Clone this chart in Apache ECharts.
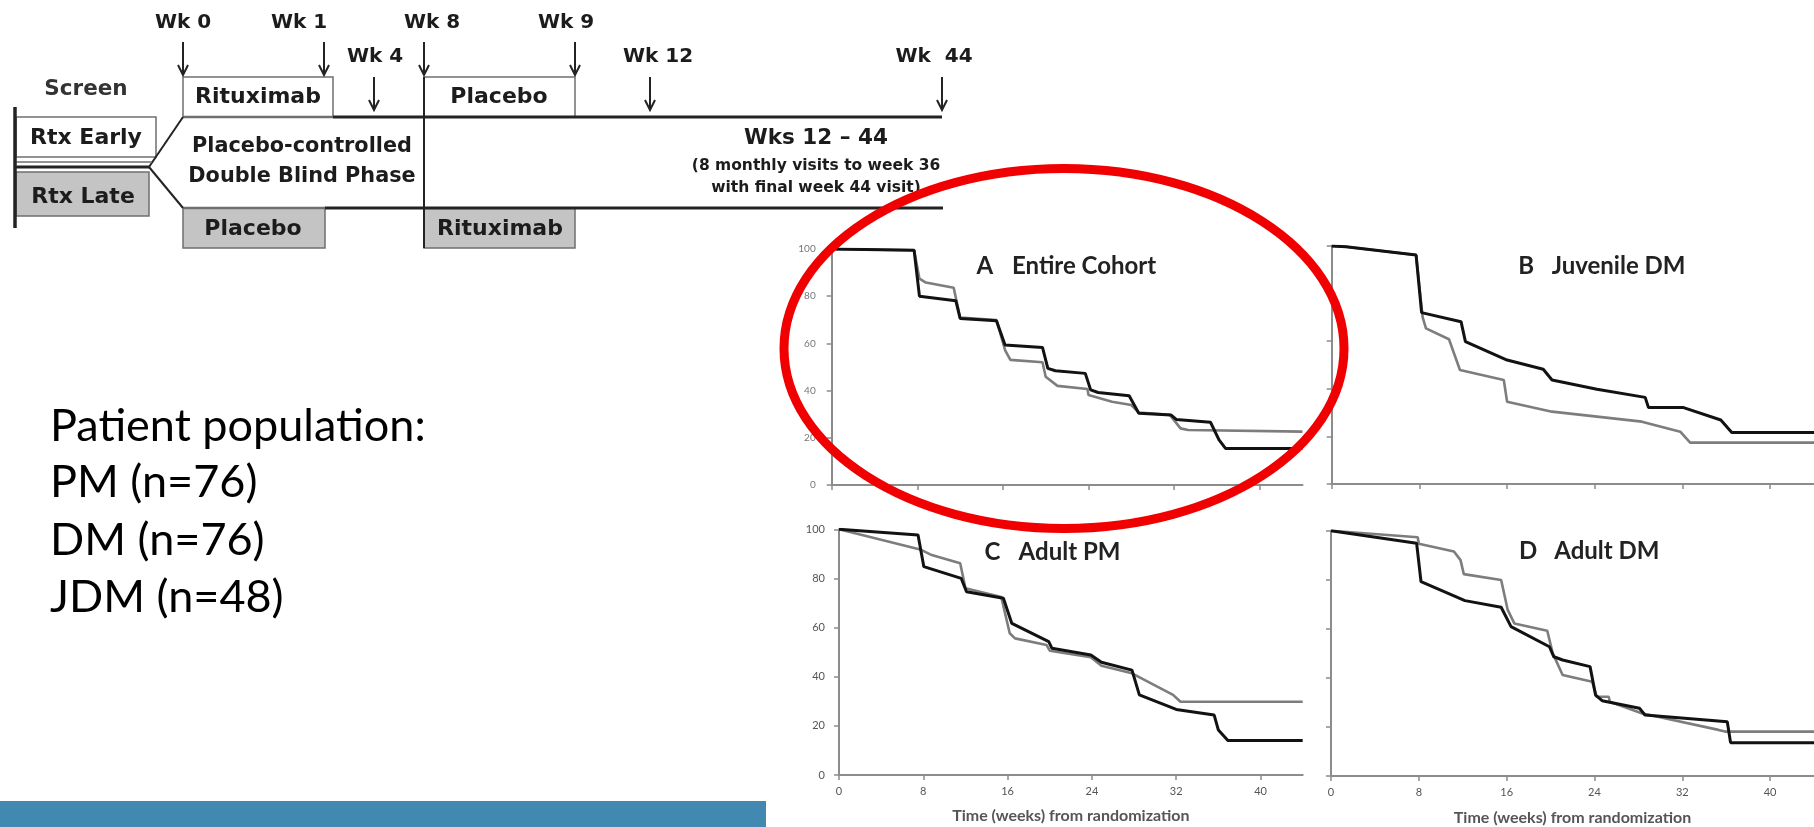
<!DOCTYPE html>
<html><head><meta charset="utf-8">
<script src="https://cdn.jsdelivr.net/npm/echarts@6/dist/echarts.min.js"></script>
<style>html,body{margin:0;padding:0;background:#fff}#c{width:1814px;height:827px}</style>
</head><body><div id="c"></div>
<script>
// ---------- data ----------
const xTicks = [0, 8, 16, 24, 32, 40];
const yTicks = [0, 20, 40, 60, 80, 100];
const panelLetters = ['A', 'B', 'C', 'D'];
const panelNames = ['Entire Cohort', 'Juvenile DM', 'Adult PM', 'Adult DM'];
const xAxisTitle = 'Time (weeks) from randomization';
const populationLines = ['Patient population:', 'PM (n=76)', 'DM (n=76)', 'JDM (n=48)'];

// [week, % remaining] — black curve and grey curve per panel
const entireBlack = [[0,100],[7.7,99.5],[8.2,80],[11.6,78.1],[12.0,70.6],[15.4,69.6],[16.2,59.3],[19.7,58.3],[20.2,49.4],[20.9,48.4],[23.7,47.3],[24.2,40.3],[24.9,39.2],[27.8,37.8],[28.7,30.4],[31.7,29.7],[32.2,27.8],[35.4,26.6],[36.2,19.1],[36.8,15.5],[44,15.5]];
const entireGrey  = [[0,100],[7.7,99.5],[8.2,87.4],[8.8,85.8],[11.4,83.6],[12.0,71],[15.4,69.9],[16.2,57.2],[16.7,53],[19.7,52],[20.0,45.9],[21.1,42],[23.9,40.7],[24.0,38.1],[26.2,35.3],[28.0,33.9],[28.7,30.7],[31.6,29.7],[32.6,24],[33.3,23.3],[44,22.6]];
const juvenileBlack = [[0,100],[1.3,99.7],[7.7,96.2],[8.2,72],[11.8,68.2],[12.2,59.8],[16.0,52.1],[19.3,48.2],[20.1,43.7],[24.2,39.8],[28.6,36.4],[28.9,32.1],[32.1,32.1],[35.5,26.9],[36.5,21.6],[44,21.6]];
const juvenileGrey  = [[0,100],[1.3,99.7],[7.7,96.2],[8.3,70],[8.6,65.4],[10.7,60.8],[11.7,47.9],[15.7,43.7],[16.0,34.6],[20.1,30.4],[28.3,26.2],[31.8,22],[32.7,17.4],[44,17.4]];
const adultPmBlack = [[0,100],[7.5,97.7],[8.05,84.8],[11.6,80],[12.1,74.6],[15.6,71.9],[16.4,61.7],[19.9,54.3],[20.2,51.6],[23.9,48.8],[24.9,45.9],[27.8,42.7],[28.5,32.6],[32.0,26.7],[35.6,24.4],[36.0,18.3],[36.9,14],[44,14]];
const adultPmGrey  = [[0,100],[7.7,91.8],[8.8,89.5],[11.5,86.2],[12.0,76],[15.4,72.4],[16.2,57.7],[16.7,55.6],[19.7,52.9],[20.0,50.6],[23.9,47.9],[24.9,44.5],[27.8,41.4],[31.7,32.6],[32.4,29.8],[44,29.8]];
const adultDmBlack = [[0,100],[7.8,94.9],[8.2,79.2],[12.2,71.5],[15.5,68.8],[16.4,60.9],[19.9,52.7],[20.3,48.6],[21.1,47.3],[23.6,44.6],[24.1,33],[24.7,30.7],[28.1,27.6],[28.6,24.9],[36.1,22.1],[36.4,13.6],[44,13.6]];
const adultDmGrey  = [[0,100],[7.9,97.3],[8.0,94.7],[11.2,91.5],[11.8,88],[12.1,82.3],[15.5,79.9],[16.1,67.7],[16.7,62.2],[19.7,59.2],[20.2,50],[21.1,41.2],[23.8,38.4],[24.2,32.3],[25.3,32.3],[25.4,30.3],[28.3,25.6],[35.3,18.8],[35.9,18.1],[44,18.1]];

const blackCurves = [entireBlack, juvenileBlack, adultPmBlack, adultDmBlack];
const greyCurves = [entireGrey, juvenileGrey, adultPmGrey, adultDmGrey];

// ---------- layout ----------
const grids = [
  {left: 831.7, top: 249,   width: 470.8, height: 236},
  {left: 1331.7, top: 246,  width: 500.5, height: 238},
  {left: 839,   top: 529.3, width: 463.7, height: 245.7},
  {left: 1331,  top: 530.7, width: 488.9, height: 245.3}
];
const titlePos = [
  {lx: 976.4, nx: 1012, y: 266},
  {lx: 1518.3, nx: 1551.7, y: 266},
  {lx: 984.6, nx: 1018.6, y: 552},
  {lx: 1519, nx: 1554.3, y: 551}
];
const axisGrey = '#8c8c8c';

const xAxes = grids.map((g, i) => ({
  type: 'value', gridIndex: i, min: 0, max: 44, interval: 8,
  axisLine: {show: true, onZero: false, lineStyle: {color: axisGrey, width: 2}},
  axisTick: {show: true, customValues: xTicks, length: 5, lineStyle: {color: axisGrey, width: 1.5}},
  axisLabel: {show: i >= 2, customValues: xTicks, margin: 11,
    color: '#555', fontSize: 11, fontFamily: 'Lato'},
  splitLine: {show: false},
  name: i >= 2 ? xAxisTitle : '', nameLocation: 'middle', nameGap: i === 2 ? 33 : 34,
  nameTextStyle: {color: '#555', fontSize: 16, fontWeight: 'bold', fontFamily: 'Lato'}
}));
const yAxes = grids.map((g, i) => ({
  type: 'value', gridIndex: i, min: 0, max: 100, interval: 20,
  axisLine: {show: true, lineStyle: {color: axisGrey, width: 2}},
  axisTick: {show: true, customValues: yTicks, length: 5, lineStyle: {color: axisGrey, width: 1.5}},
  axisLabel: {show: i === 0 || i === 2, customValues: yTicks, margin: i === 0 ? 16 : 14,
    color: i === 0 ? '#777' : '#555', fontSize: i === 0 ? 10 : 11, fontFamily: 'Lato'},
  splitLine: {show: false}
}));
const series = [];
grids.forEach((g, i) => {
  series.push({type: 'line', xAxisIndex: i, yAxisIndex: i, data: greyCurves[i], symbol: 'none',
    lineStyle: {color: '#7d7d7d', width: 2.6}, z: 2});
  series.push({type: 'line', xAxisIndex: i, yAxisIndex: i, data: blackCurves[i], symbol: 'none',
    lineStyle: {color: '#121212', width: 3}, z: 3});
});

// ---------- schematic (decoration) ----------
const G = [];
const dark = '#232323', mid = '#6f6f6f', boxGrey = '#c4c4c4';
const dFont = 'bold 20px "DejaVu Sans"';
const bFont = 'bold 22px "DejaVu Sans"';
function txt(t, x, y, font, fill, align) {
  G.push({type: 'text', x: x, y: y, z: 50, style: {text: t, font: font || dFont, fill: fill || '#1c1c1c',
    align: align || 'center', verticalAlign: 'middle'}});
}
function ln(x1, y1, x2, y2, c, w) {
  G.push({type: 'line', z: 40, shape: {x1, y1, x2, y2}, style: {stroke: c, lineWidth: w}});
}
function arrow(x, y1, y2) {
  ln(x, y1, x, y2, dark, 2);
  G.push({type: 'polyline', z: 40, shape: {points: [[x - 5, y2 - 10], [x, y2], [x + 5, y2 - 10]]},
    style: {stroke: dark, lineWidth: 2, fill: 'none'}});
}
function box(x, y, w, h, fill, stroke) {
  G.push({type: 'rect', z: 30, shape: {x, y, width: w, height: h}, style: {fill: fill, stroke: stroke || mid, lineWidth: 1.5}});
}
// boxes
box(183, 77, 150, 40, '#fff');
box(424, 77, 151, 40, '#fff');
box(183, 208, 142, 40, boxGrey);
box(424, 208, 151, 40, boxGrey);
box(16, 117, 140, 40, '#fff');
box(16, 172, 133, 44, boxGrey);
// lines
ln(183, 117, 333, 117, mid, 2.5);
ln(333, 117, 942, 117, dark, 3);
ln(325, 208, 943, 208, dark, 3);
ln(183, 208, 325, 208, mid, 2.5);
ln(424, 77, 424, 248, dark, 2);
ln(183, 117, 149, 167, dark, 2);
ln(149, 167, 183, 208, dark, 2);
ln(16, 162, 152, 162, mid, 1.5);
ln(16, 167, 149, 167, dark, 3);
ln(15, 107, 15, 228, dark, 3.5);
// arrows
arrow(183, 42, 75); arrow(324, 42, 75); arrow(424, 42, 75); arrow(575, 42, 75);
arrow(374, 77, 110); arrow(650, 77, 110); arrow(942, 77, 110);
// labels
txt('Wk 0', 183, 23); txt('Wk 1', 299, 23); txt('Wk 8', 432, 23); txt('Wk 9', 566, 23);
txt('Wk 4', 375, 57); txt('Wk 12', 658, 57); txt('Wk  44', 934, 57);
txt('Screen', 86, 89, 'bold 21.5px "DejaVu Sans"', '#333');
txt('Rtx Early', 86, 138, bFont);
txt('Rtx Late', 83, 197, bFont);
txt('Rituximab', 258, 97, bFont);
txt('Placebo', 499, 97, bFont);
txt('Placebo-controlled', 302, 147, 'bold 20.8px "DejaVu Sans"');
txt('Double Blind Phase', 302, 177, 'bold 20.8px "DejaVu Sans"');
txt('Placebo', 253, 229, bFont);
txt('Rituximab', 500, 229, bFont);
txt('Wks 12 \u2013 44', 816, 138, 'bold 21.5px "DejaVu Sans"');
txt('(8 monthly visits to week 36', 816, 166, 'bold 15.5px "DejaVu Sans"');
txt('with final week 44 visit)', 816, 188, 'bold 15.5px "DejaVu Sans"');

// population text
const popBase = [442, 498, 556, 613];
populationLines.forEach((t, i) => txt(t, 50, popBase[i] - 16, '45px Lato', '#000', 'left'));

// panel titles
titlePos.forEach((p, i) => {
  txt(panelLetters[i], p.lx, p.y, 'bold 24px Lato', '#222', 'left');
  txt(panelNames[i], p.nx, p.y, 'bold 24px Lato', '#222', 'left');
});

// bottom bar
G.push({type: 'rect', z: 10, shape: {x: 0, y: 801, width: 766, height: 26}, style: {fill: '#4289b2'}});
// red ellipse
G.push({type: 'ellipse', z: 100, shape: {cx: 1064, cy: 348.5, rx: 280, ry: 180},
  style: {fill: 'none', stroke: '#f00000', lineWidth: 9}});

const chart = echarts.init(document.getElementById('c'));
chart.setOption({
  animation: false,
  backgroundColor: '#fff',
  grid: grids,
  xAxis: xAxes,
  yAxis: yAxes,
  series: series,
  graphic: G
});
</script>
</body></html>
